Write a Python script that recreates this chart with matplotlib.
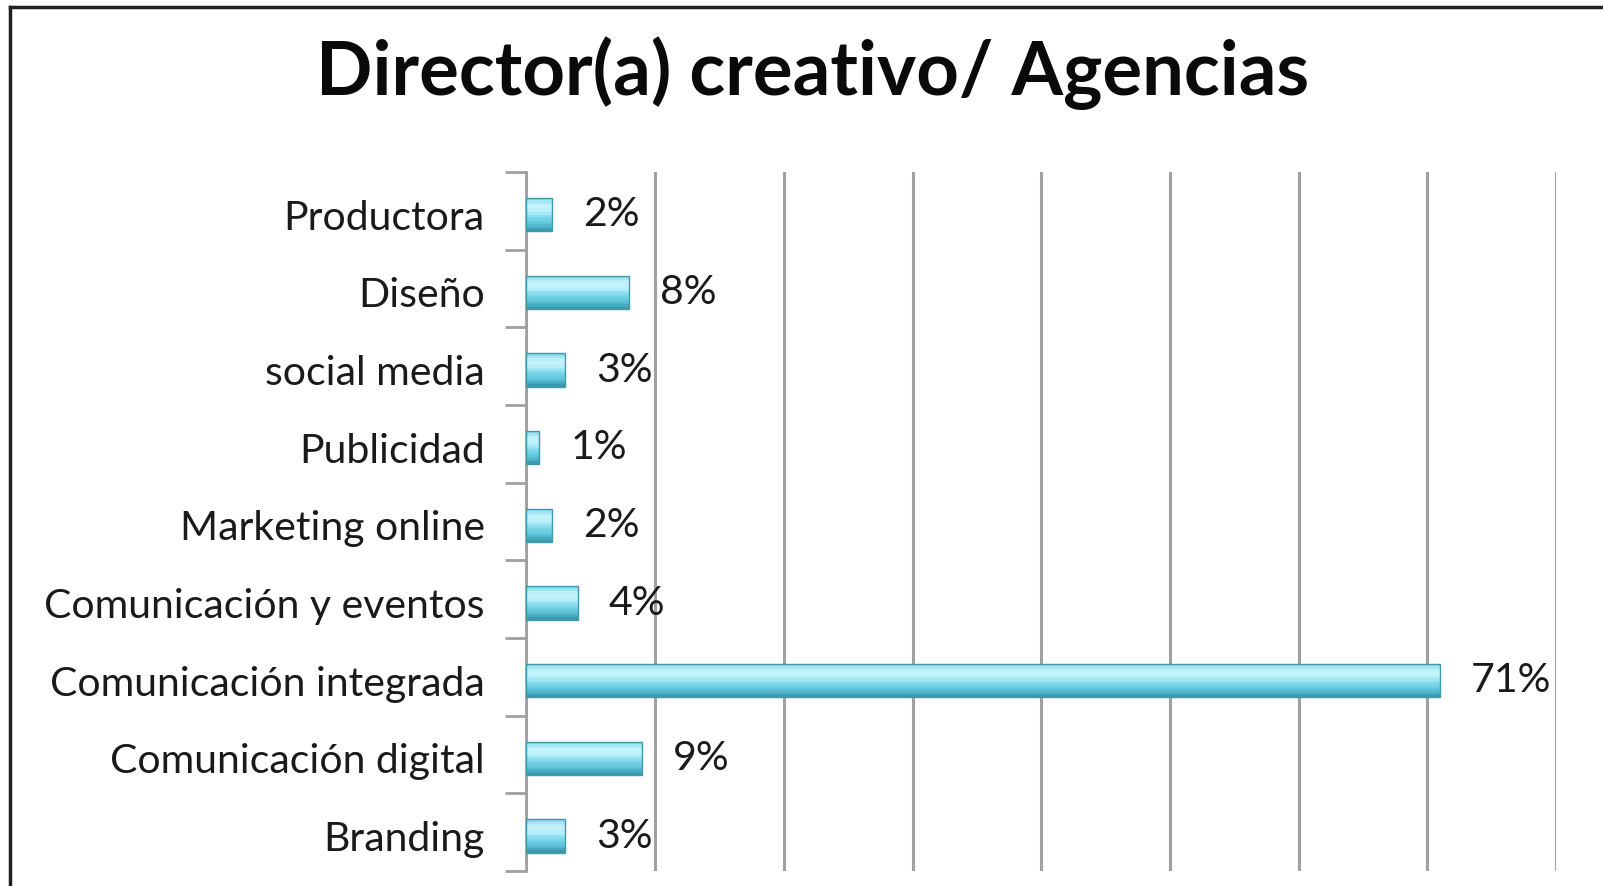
import matplotlib
matplotlib.use('Agg')
import matplotlib.pyplot as plt
from matplotlib.lines import Line2D
from matplotlib.colors import LinearSegmentedColormap
import numpy as np

# categories bottom to top, as they appear in the chart
categories = ['Branding', 'Comunicación digital', 'Comunicación integrada',
              'Comunicación y eventos', 'Marketing online', 'Publicidad',
              'social media', 'Diseño', 'Productora']
values = [3, 9, 71, 4, 2, 1, 3, 8, 2]
value_labels = ['3%', '9%', '71%', '4%', '2%', '1%', '3%', '8%', '2%']

plt.rcParams['font.family'] = ['Lato', 'DejaVu Sans']

fig = plt.figure(figsize=(16.03, 8.86), dpi=100)
ax = fig.add_axes([0.3284, 0.0169, 0.6423, 0.7890])

y = np.arange(len(categories)) - 0.05
bar_h = 0.43

# glossy bar look: stack thin bands from dark bottom to light top
shade = LinearSegmentedColormap.from_list(
    'gloss', ['#3b98ad', '#5cc2d8', '#7ad6ea', '#b4eff9', '#c9f5fc', '#8fdcec'])
n_bands = 14
band = bar_h / n_bands
for k in range(n_bands):
    ax.barh(y - bar_h / 2 + band * (k + 0.5), values, height=band * 1.05,
            color=shade(k / (n_bands - 1)), linewidth=0, zorder=3)
ax.barh(y, values, height=bar_h, color='none', edgecolor='#3f98ad',
        linewidth=1.0, zorder=4)

for yi, v, lab in zip(y, values, value_labels):
    ax.annotate(lab, (v, yi), xytext=(31, 0), textcoords='offset pixels',
                va='center', ha='left', fontsize=29.5, color='#1a1a1a')

ax.set_xlim(0, 80)
ax.set_ylim(-0.5, len(categories) - 0.5)
ax.set_xticks(np.arange(0, 81, 10))
ax.tick_params(axis='x', length=0, labelbottom=False)
ax.xaxis.grid(True, color='#a0a0a0', linewidth=2.2, zorder=0)

ax.set_yticks(y)
ax.set_yticklabels(categories, fontsize=29.5, color='#1a1a1a')
ax.set_yticks(np.arange(-0.5, len(categories), 1), minor=True)
ax.tick_params(axis='y', which='major', length=0, pad=30)
ax.tick_params(axis='y', which='minor', length=15, width=2, color='#a0a0a0')

for s in ['top', 'right', 'bottom']:
    ax.spines[s].set_visible(False)
ax.spines['left'].set_color('#a0a0a0')
ax.spines['left'].set_linewidth(2)

fig.text(0.507, 0.917, 'Director(a) creativo/ Agencias', ha='center',
         va='center', fontsize=53.5, fontweight='bold', color='#0a0a0a')

# outer chart frame (top and left edges visible)
fig.add_artist(Line2D([0.0062, 1.0], [0.992, 0.992], color='#202020',
                      linewidth=2.5, transform=fig.transFigure))
fig.add_artist(Line2D([0.0062, 0.0062], [0.0, 0.992], color='#202020',
                      linewidth=2.5, transform=fig.transFigure))

fig.savefig('out.png', dpi=100)
